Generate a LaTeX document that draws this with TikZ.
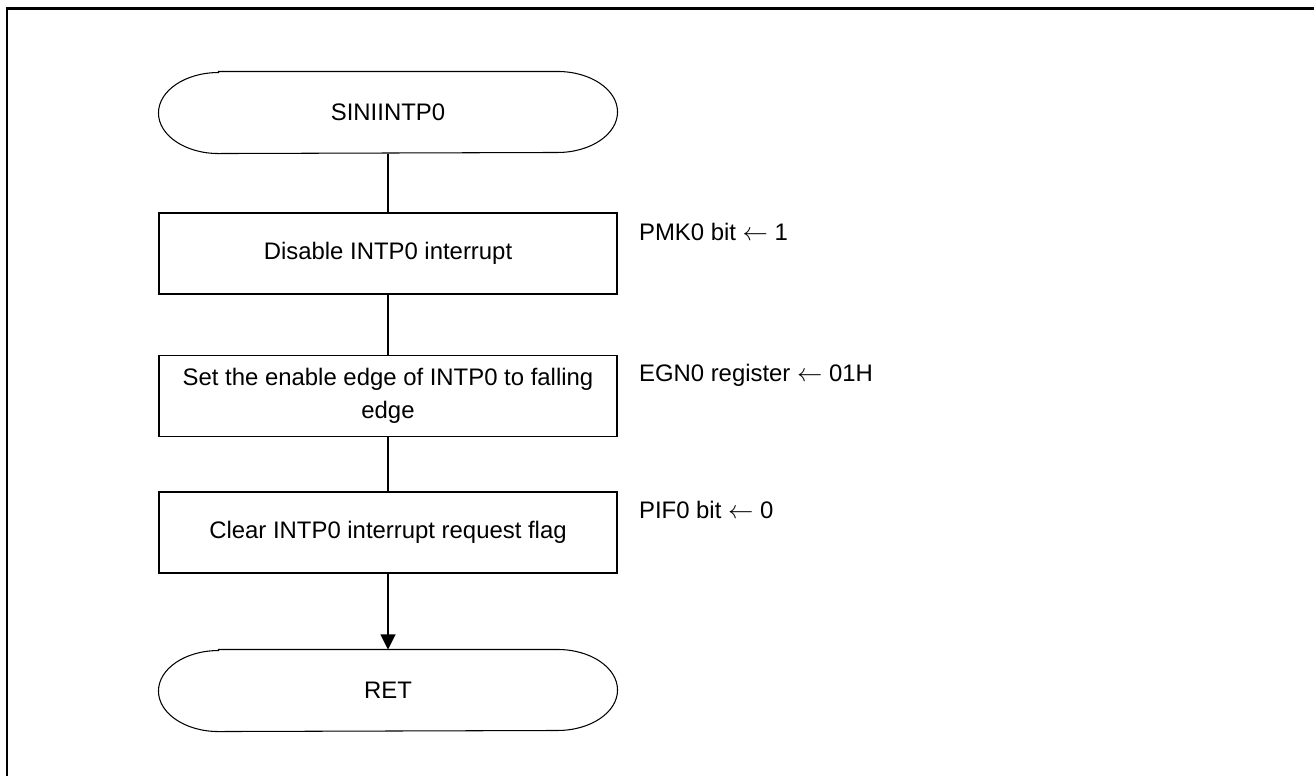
\documentclass[tikz,border=0pt]{standalone}
\usepackage{fontspec}
\setmainfont{Liberation Sans}
\usetikzlibrary{arrows.meta}

\tikzset{
  stepbox/.style={draw, minimum width=9.16cm, minimum height=1.62cm, align=center, inner sep=2pt},
  terminal/.style={minimum width=9.16cm, minimum height=1.62cm},
  regnote/.style={anchor=base west, inner sep=0pt},
}

\begin{document}
\begin{tikzpicture}[font=\fontsize{13.6}{18.7}\selectfont, line width=0.6pt]
    \useasboundingbox (0,0) rectangle (26.28,-15.52);
    \draw[line width=1.2pt] (0.14,-15.52) -- (0.14,-0.17) -- (26.28,-0.17);

    % flow
    \node[terminal] (start) at (7.76,-2.25) {SINIINTP0};
    \node[stepbox] (pmk) at (7.76,-5.07) {Disable INTP0 interrupt};
    \node[stepbox] (egn) at (7.76,-7.92) {Set the enable edge of INTP0 to falling\\edge};
    \node[stepbox] (pif) at (7.76,-10.65) {Clear INTP0 interrupt request flag};
    \node[terminal] (ret) at (7.76,-13.81) {RET};

    \foreach \n in {start,ret}
      \draw ([xshift=1.2cm]\n.north west) -- ([xshift=-1.2cm]\n.north east)
        arc[start angle=90, end angle=-90, x radius=1.2cm, y radius=0.81cm]
        -- ([xshift=1.2cm]\n.south west)
        arc[start angle=270, end angle=90, x radius=1.2cm, y radius=0.81cm] -- cycle;

    % register notes
    \node[regnote] (pmkset) at ([xshift=0.42cm, yshift=-0.56cm]pmk.north east) {PMK0 bit $\leftarrow$ 1};
    \node[regnote] (egnset) at ([xshift=0.42cm, yshift=-0.54cm]egn.north east) {EGN0 register $\leftarrow$ 01H};
    \node[regnote] (pifset) at ([xshift=0.42cm, yshift=-0.54cm]pif.north east) {PIF0 bit $\leftarrow$ 0};

    \draw (start) -- (pmk);
    \draw (pmk) -- (egn);
    \draw (egn) -- (pif);
    \draw[-{Triangle[length=0.3cm, width=0.3cm]}] (pif) -- (ret);
  \end{tikzpicture}
\end{document}
